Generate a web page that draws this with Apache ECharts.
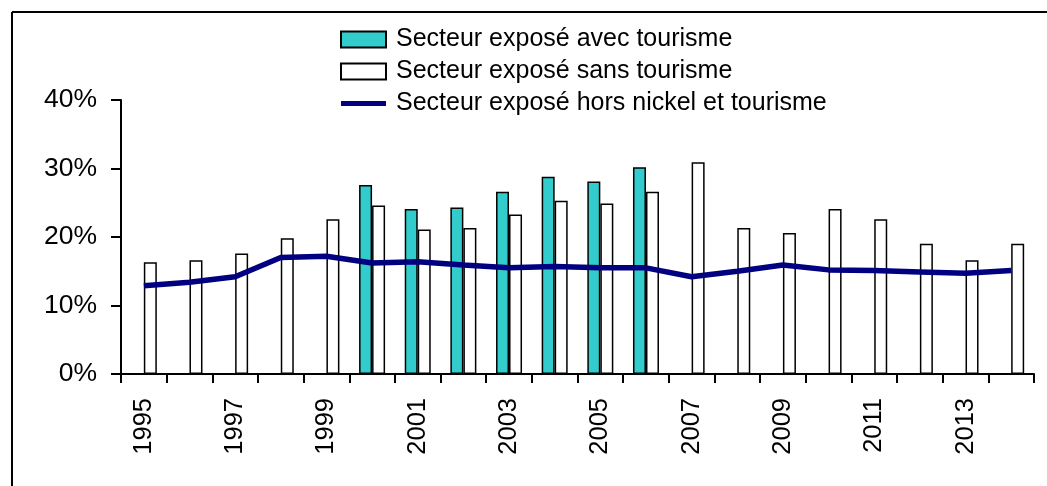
<!DOCTYPE html>
<html lang="fr">
<head>
    <meta charset="utf-8" />
    <title>Secteur exposé</title>
    <script src="https://cdn.jsdelivr.net/npm/echarts@6/dist/echarts.min.js"></script>
    <style>
        html, body { margin: 0; padding: 0; background: #fff; }
        #main { width: 1047px; height: 486px; }
    </style>
</head>
<body>
<div id="main"></div>
<script type="text/javascript">
    // années (axe X)
    var annees = ['1995', '1996', '1997', '1998', '1999', '2000', '2001', '2002', '2003', '2004',
        '2005', '2006', '2007', '2008', '2009', '2010', '2011', '2012', '2013', '2014'];
    // secteur exposé avec tourisme (seulement 2000-2006)
    var avecTourisme = [null, null, null, null, null, 0.276, 0.241, 0.243, 0.266, 0.288,
        0.281, 0.302, null, null, null, null, null, null, null, null];
    // secteur exposé sans tourisme
    var sansTourisme = [0.163, 0.166, 0.176, 0.198, 0.226, 0.246, 0.211, 0.213, 0.233, 0.253,
        0.249, 0.266, 0.309, 0.213, 0.206, 0.241, 0.226, 0.190, 0.166, 0.190];
    // secteur exposé hors nickel et tourisme
    var horsNickel = [0.129, 0.134, 0.142, 0.170, 0.172, 0.162, 0.164, 0.159, 0.155, 0.157,
        0.155, 0.155, 0.142, 0.150, 0.159, 0.152, 0.151, 0.149, 0.147, 0.151];
    var nomsSeries = ['Secteur exposé avec tourisme', 'Secteur exposé sans tourisme', 'Secteur exposé hors nickel et tourisme'];

    var police = '"Liberation Sans", Arial, sans-serif';
    var myChart = echarts.init(document.getElementById('main'));

    var option = {
        animation: false,
        backgroundColor: '#ffffff',
        // cadre (haut et gauche)
        graphic: [
            {type: 'line', shape: {x1: 12, y1: 12, x2: 1047, y2: 12}, style: {stroke: '#000', lineWidth: 2}},
            {type: 'line', shape: {x1: 12, y1: 12, x2: 12, y2: 486}, style: {stroke: '#000', lineWidth: 2}}
        ],
        legend: {
            orient: 'vertical',
            left: 340,
            top: 27,
            padding: 0,
            itemWidth: 45,
            itemHeight: 16,
            itemGap: 7,
            data: [
                {name: nomsSeries[0], icon: 'rect'},
                {name: nomsSeries[1], icon: 'rect'},
                // trait simple, sans symbole
                {name: nomsSeries[2], icon: 'path://M0,0 L45,0 L45,5 L0,5 Z'}
            ],
            textStyle: {fontFamily: police, fontSize: 25, color: '#000', padding: [0, 0, 0, 5]}
        },
        grid: {
            left: 121,
            right: 13,
            top: 100,
            bottom: 112
        },
        xAxis: {
            type: 'category',
            data: annees,
            boundaryGap: true,
            axisLine: {show: true, lineStyle: {color: '#000', width: 2}},
            axisTick: {show: true, interval: 0, length: 9, lineStyle: {color: '#000', width: 2}},
            axisLabel: {
                interval: 1,
                rotate: 90,
                margin: 24,
                color: '#000',
                fontFamily: police,
                fontSize: 25.5
            },
            splitLine: {show: false}
        },
        yAxis: {
            type: 'value',
            min: 0,
            max: 0.4,
            interval: 0.1,
            axisLine: {show: true, lineStyle: {color: '#000', width: 2}},
            axisTick: {show: true, length: 10, lineStyle: {color: '#000', width: 2}},
            axisLabel: {
                margin: 24,
                color: '#000',
                fontFamily: police,
                fontSize: 26.5,
                formatter: function (v) {
                    return Math.round(v * 100) + '%';
                }
            },
            splitLine: {show: false}
        },
        series: [
            {
                name: nomsSeries[0],
                type: 'bar',
                data: avecTourisme,
                barWidth: 13,
                barGap: '0%',
                itemStyle: {color: '#33cccc', borderColor: '#000', borderWidth: 1.5}
            },
            {
                name: nomsSeries[1],
                type: 'bar',
                data: sansTourisme,
                barWidth: 13,
                barGap: '0%',
                itemStyle: {color: '#ffffff', borderColor: '#000', borderWidth: 1.5}
            },
            {
                name: nomsSeries[2],
                type: 'line',
                data: horsNickel,
                symbol: 'none',
                z: 5,
                lineStyle: {color: '#000080', width: 5.5},
                itemStyle: {color: '#000080'}
            }
        ]
    };

    myChart.setOption(option);
</script>
</body>
</html>
